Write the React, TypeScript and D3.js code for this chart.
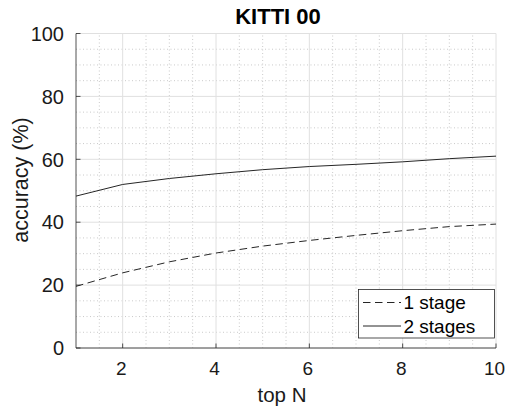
import * as d3 from "d3";

const topN = [1, 2, 3, 4, 5, 6, 7, 8, 9, 10];
const oneStage = [19.6, 23.9, 27.4, 30.2, 32.4, 34.2, 35.8, 37.3, 38.6, 39.4];
const twoStages = [48.3, 52.0, 53.9, 55.4, 56.7, 57.7, 58.4, 59.2, 60.2, 61.0];
const seriesNames = ["1 stage", "2 stages"];
const xTicks = [2, 4, 6, 8, 10];
const yTicks = [0, 20, 40, 60, 80, 100];

const W = 508;
const H = 406;
const FONT = "'Liberation Sans', Arial, Helvetica, sans-serif";

const App: React.FC = () => {
    const x = d3.scaleLinear().domain([1, 10]).range([76, 496]);
    const y = d3.scaleLinear().domain([0, 100]).range([348, 33.5]);

    const line = d3
        .line<number>()
        .x((_d, i) => x(topN[i]))
        .y((d) => y(d));

    const xMinor = d3.range(1.5, 10, 0.5).filter((v) => v % 2 !== 0);
    const yMinor = d3.range(5, 100, 5).filter((v) => v % 20 !== 0);

    const axisColor = "#262626";
    const majorGrid = "#e0e0e0";
    const minorGrid = "#bdbdbd";
    const dash = "7.5,4.5";

    const legend = { x: 358.5, y: 289.5, w: 136, h: 48.5 };

    return (
        <svg
            width={W}
            height={H}
            style={{ position: "absolute", left: 0, top: 0, background: "#fff" }}
            fontFamily={FONT}
        >
            <rect x={0} y={0} width={W} height={H} fill="#fff" />
            {/* minor grid */}
            {xMinor.map((v) => (
                <line
                    key={"xm" + v}
                    x1={x(v)}
                    x2={x(v)}
                    y1={y(0)}
                    y2={y(100)}
                    stroke={minorGrid}
                    strokeWidth={0.8}
                    strokeDasharray="1,2.5"
                />
            ))}
            {yMinor.map((v) => (
                <line
                    key={"ym" + v}
                    x1={x(1)}
                    x2={x(10)}
                    y1={y(v)}
                    y2={y(v)}
                    stroke={minorGrid}
                    strokeWidth={0.8}
                    strokeDasharray="1,2.5"
                />
            ))}
            {/* major grid */}
            {xTicks.map((v) => (
                <line
                    key={"xg" + v}
                    x1={x(v)}
                    x2={x(v)}
                    y1={y(0)}
                    y2={y(100)}
                    stroke={majorGrid}
                    strokeWidth={1}
                />
            ))}
            {yTicks.map((v) => (
                <line
                    key={"yg" + v}
                    x1={x(1)}
                    x2={x(10)}
                    y1={y(v)}
                    y2={y(v)}
                    stroke={majorGrid}
                    strokeWidth={1}
                />
            ))}
            {/* axes */}
            <line x1={x(1)} x2={x(1)} y1={y(0)} y2={y(100)} stroke={axisColor} strokeWidth={0.8} />
            <line x1={x(1)} x2={x(10)} y1={y(0)} y2={y(0)} stroke={axisColor} strokeWidth={0.8} />
            {yTicks.map((v) => (
                <g key={"yt" + v}>
                    <line x1={x(1)} x2={x(1) + 4.5} y1={y(v)} y2={y(v)} stroke={axisColor} strokeWidth={0.8} />
                    <text
                        x={64}
                        y={y(v)}
                        dy="0.36em"
                        textAnchor="end"
                        fontSize={20}
                        fill="#1a1a1a"
                    >
                        {v}
                    </text>
                </g>
            ))}
            {xTicks.map((v) => (
                <g key={"xt" + v}>
                    <line x1={x(v)} x2={x(v)} y1={y(0)} y2={y(0) - 4.5} stroke={axisColor} strokeWidth={0.8} />
                    <text
                        x={x(v) - 1.5}
                        y={375}
                        textAnchor="middle"
                        fontSize={19}
                        fill="#1a1a1a"
                    >
                        {v}
                    </text>
                </g>
            ))}
            {/* series */}
            <path d={line(oneStage) ?? ""} fill="none" stroke="#262626" strokeWidth={1} strokeDasharray={dash} />
            <path d={line(twoStages) ?? ""} fill="none" stroke="#262626" strokeWidth={1} />

            {/* labels */}
            <text x={278} y={23.5} textAnchor="middle" fontSize={22} fontWeight="bold" fill="#000">
                KITTI 00
            </text>
            <text x={282} y={402} textAnchor="middle" fontSize={20.5} fill="#1a1a1a">
                top N
            </text>
            <text
                transform="translate(27.5,180) rotate(-90)"
                textAnchor="middle"
                fontSize={21.5}
                fill="#1a1a1a"
            >
                accuracy (%)
            </text>

            {/* legend */}
            <rect
                x={legend.x}
                y={legend.y}
                width={legend.w}
                height={legend.h}
                fill="#fff"
                stroke="#262626"
                strokeWidth={0.8}
            />
            {seriesNames.map((name, i) => {
                const cy = legend.y + 13 + i * 23.5;
                return (
                    <g key={name}>
                        <line
                            x1={363}
                            x2={401}
                            y1={cy}
                            y2={cy}
                            stroke="#262626"
                            strokeWidth={1}
                            strokeDasharray={i === 0 ? dash : undefined}
                        />
                        <text x={403.5} y={cy} dy="0.36em" fontSize={19} fill="#000">
                            {name}
                        </text>
                    </g>
                );
            })}
        </svg>
    );
};

export default App;
